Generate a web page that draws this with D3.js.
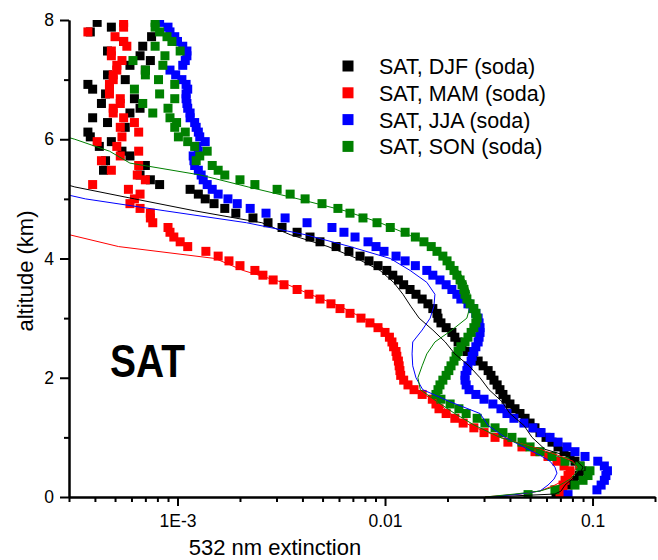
<!DOCTYPE html>
<html>
<head>
<meta charset="utf-8">
<script src="https://cdn.jsdelivr.net/npm/d3@7"></script>
<style>
  body { margin: 0; background: #fff; }
  text { font-family: "Liberation Sans", Arial, sans-serif; fill: #000; }
</style>
</head>
<body>
<div id="chart"></div>
<script>
// Altitude levels of the soda profiles (km)
const altitude = [
  0.04,0.12,0.2,0.28,0.36,0.44,0.52,0.6,0.68,0.76,
  0.84,0.92,1,1.08,1.16,1.24,1.32,1.4,1.48,1.56,
  1.64,1.72,1.8,1.88,1.96,2.04,2.12,2.2,2.28,2.36,
  2.44,2.52,2.6,2.68,2.76,2.84,2.92,3,3.08,3.16,
  3.24,3.32,3.4,3.48,3.56,3.64,3.72,3.8,3.88,3.96,
  4.04,4.12,4.2,4.28,4.36,4.44,4.52,4.6,4.68,4.76,
  4.84,4.92,5,5.08,5.16,5.24,5.32,5.4,5.48,5.56,
  5.64,5.72,5.8,5.88,5.96,6.04,6.12,6.2,6.28,6.36,
  6.44,6.52,6.6,6.68,6.76,6.84,6.92,7,7.08,7.16,
  7.24,7.32,7.4,7.48,7.56,7.64,7.72,7.8,7.88,7.96
];

// 532 nm extinction, seasonal soda profiles
const djf = [
  0.0667,0.0713,0.0762,0.0814,0.0861,0.0890,0.0870,0.0823,0.0779,0.0729,
  0.0682,0.0638,0.0597,0.0558,0.0528,0.0500,0.0473,0.0447,0.0423,0.0400,
  0.0383,0.0370,0.0358,0.0347,0.0335,0.0324,0.0314,0.0297,0.0281,0.0265,
  0.0248,0.0235,0.0225,0.0217,0.0210,0.0197,0.0186,0.0180,0.0178,0.0170,
  0.0161,0.0151,0.0141,0.0132,0.0123,0.0116,0.0109,0.0102,0.00925,0.00837,
  0.00758,0.00670,0.00581,0.00486,0.00435,0.00377,0.00319,0.00273,0.00231,0.00191,
  0.00169,0.00150,0.00136,0.00126,0.00115,0.00082,0.00074,0.00066,0.00044,0.00070,
  0.00045,0.00059,0.00054,0.00042,0.00048,0.00038,0.00037,0.00056,0.00046,0.00039,
  0.00059,0.00066,0.00043,0.00062,0.00045,0.00039,0.00037,0.00056,0.00046,0.00070,
  0.00059,0.00074,0.00066,0.00046,0.00068,0.00055,0.00075,0.00038,0.00048,0.00041
];
const mam = [
  0.0697,0.0713,0.0721,0.0737,0.0762,0.0779,0.0729,0.0674,0.0610,0.0528,
  0.0457,0.0391,0.0339,0.0300,0.0268,0.0238,0.0217,0.0197,0.0182,0.0176,
  0.0169,0.0151,0.0138,0.0129,0.0123,0.0119,0.0118,0.0117,0.0116,0.0114,
  0.0113,0.0110,0.0108,0.0105,0.0100,0.00925,0.00846,0.00766,0.00678,0.00607,
  0.00549,0.00486,0.00430,0.00377,0.00326,0.00289,0.00258,0.00236,0.00200,0.00177,
  0.00157,0.00137,0.00112,0.00103,0.00096,0.00092,0.00090,0.00076,0.00074,0.00074,
  0.00066,0.00059,0.00062,0.00066,0.00058,0.00039,0.00070,0.00064,0.00048,0.00065,
  0.00043,0.00053,0.00065,0.00051,0.00041,0.00054,0.00065,0.00053,0.00062,0.00055,
  0.00049,0.00049,0.00053,0.00053,0.00047,0.00047,0.00047,0.00049,0.00049,0.00051,
  0.00051,0.00054,0.00048,0.00048,0.00057,0.00055,0.00050,0.00037,0.00055,0.00055
];
const jja = [
  0.0762,0.105,0.110,0.114,0.116,0.118,0.114,0.106,0.0920,0.0823,
  0.0753,0.0682,0.0624,0.0565,0.0516,0.0467,0.0418,0.0387,0.0362,0.0331,
  0.0300,0.0274,0.0254,0.0246,0.0243,0.0243,0.0248,0.0251,0.0260,0.0263,
  0.0268,0.0274,0.0281,0.0284,0.0287,0.0287,0.0284,0.0281,0.0274,0.0265,
  0.0251,0.0232,0.0222,0.0210,0.0197,0.0184,0.0170,0.0159,0.0140,0.0125,
  0.0113,0.00989,0.00905,0.00828,0.00717,0.00634,0.00555,0.00421,0.00330,0.00267,
  0.00224,0.00194,0.00175,0.00157,0.00147,0.00139,0.00133,0.00130,0.00126,0.00121,
  0.00120,0.00119,0.00126,0.00124,0.00136,0.00128,0.00126,0.00123,0.00121,0.00115,
  0.00115,0.00112,0.00111,0.00110,0.00110,0.00112,0.00110,0.00105,0.00098,0.00092,
  0.00106,0.00109,0.00111,0.00111,0.00106,0.00100,0.00097,0.00092,0.00090,0.00082
];
const son = [
  0.0489,0.0659,0.0823,0.0900,0.0951,0.0972,0.0870,0.0737,0.0638,0.0558,
  0.0500,0.0457,0.0409,0.0370,0.0339,0.0303,0.0278,0.0246,0.0227,0.0206,
  0.0186,0.0176,0.0180,0.0184,0.0190,0.0197,0.0203,0.0208,0.0215,0.0220,
  0.0225,0.0232,0.0243,0.0251,0.0260,0.0268,0.0274,0.0278,0.0274,0.0268,
  0.0257,0.0248,0.0243,0.0240,0.0235,0.0230,0.0222,0.0215,0.0206,0.0199,
  0.0190,0.0178,0.0167,0.0154,0.0140,0.0125,0.0106,0.00915,0.00783,0.00678,
  0.00593,0.00497,0.00412,0.00349,0.00302,0.00236,0.00200,0.00169,0.00157,0.00147,
  0.00123,0.00128,0.00139,0.00121,0.00112,0.00101,0.00109,0.00097,0.00099,0.00092,
  0.00076,0.00090,0.00068,0.00097,0.00082,0.00062,0.00097,0.00081,0.00070,0.00070,
  0.00085,0.00061,0.00087,0.00103,0.00078,0.00094,0.00089,0.00082,0.00078,0.00078
];

// Thin line profiles (no legend entry)
const lineAltitude = [
  0,0.05,0.1,0.2,0.3,0.4,0.5,0.6,0.7,0.8,
  1,1.2,1.4,1.6,1.8,2,2.2,2.4,2.6,2.8,
  3,3.2,3.4,3.6,3.8,4,4.2,4.4,4.6,4.8,
  5,5.2,5.4,5.6,5.8,6,6.2
];
const djfLine = [
  0.0321,0.0659,0.0705,0.0737,0.0796,0.0870,0.0900,0.0842,0.0737,0.0590,
  0.0511,0.0467,0.0400,0.0366,0.0317,0.0287,0.0254,0.0217,0.0195,0.0170,
  0.0146,0.0133,0.0122,0.0110,0.00946,0.00733,0.00531,0.00349,0.00255,0.00121,
  0.00062,0.00032,0.00020,0.00018,0.00016,0.00016,0.00016
];
const mamLine = [
  0.0303,0.0447,0.0558,0.0659,0.0745,0.0796,0.0842,0.0805,0.0682,0.0558,
  0.0358,0.0257,0.0206,0.0178,0.0140,0.0122,0.0118,0.0114,0.0108,0.0102,
  0.00783,0.00607,0.00435,0.00320,0.00207,0.00152,0.00052,0.00030,0.00018,0.00016,
  0.00016,0.00016,0.00016,0.00016,0.00016,0.00016,0.00016
];
const jjaLine = [
  0.0321,0.0447,0.0558,0.0610,0.0652,0.0674,0.0659,0.0624,0.0558,0.0489,
  0.0379,0.0314,0.0287,0.0205,0.0152,0.0141,0.0136,0.0135,0.0136,0.0151,
  0.0165,0.0172,0.0174,0.0159,0.0132,0.0106,0.00678,0.00412,0.00215,0.00087,
  0.00036,0.00020,0.00016,0.00016,0.00016,0.00016,0.00016
];
const sonLine = [
  0.0303,0.0423,0.0558,0.0697,0.0779,0.0832,0.0870,0.0779,0.0659,0.0544,
  0.0358,0.0271,0.0217,0.0178,0.0148,0.0144,0.0151,0.0159,0.0174,0.0210,
  0.0248,0.0257,0.0257,0.0246,0.0225,0.0199,0.0165,0.0130,0.00946,0.00641,
  0.00381,0.00219,0.00129,0.00059,0.00047,0.00032,0.00020
];

const seriesNames = ["SAT, DJF (soda)", "SAT, MAM (soda)", "SAT, JJA (soda)", "SAT, SON (soda)"];
const seriesColors = ["#000000", "#ff0000", "#0000ff", "#008000"];

const xMajorTicks = [1e-3, 1e-2, 1e-1];
const xTickLabels = ["1E-3", "0.01", "0.1"];
const yMajorTicks = [0, 2, 4, 6, 8];
const yMinorTicks = [1, 3, 5, 7];

// Dimensions
const margin = {top: 20, right: 3, bottom: 63, left: 69};
const width = 658 - margin.left - margin.right;
const height = 560 - margin.top - margin.bottom;

const svg = d3.select("#chart")
  .append("svg")
  .attr("width", 658)
  .attr("height", 560);

const g = svg.append("g")
  .attr("transform", `translate(${margin.left},${margin.top})`);

// Scales
const x = d3.scaleLog()
  .domain([3e-4, 0.2])
  .range([0, width]);

const y = d3.scaleLinear()
  .domain([0, 8])
  .range([height, 0]);

g.append("clipPath")
  .attr("id", "plot-clip")
  .append("rect")
  .attr("width", width)
  .attr("height", height);

const plot = g.append("g").attr("clip-path", "url(#plot-clip)");

// Square markers
const markerSize = 9;
[djf, mam, jja, son].forEach((vals, i) => {
  plot.append("g")
    .selectAll("rect")
    .data(vals.map((v, j) => ({value: v, alt: altitude[j]})))
    .enter().append("rect")
    .attr("x", d => x(d.value) - markerSize / 2)
    .attr("y", d => y(d.alt) - markerSize / 2)
    .attr("width", markerSize)
    .attr("height", markerSize)
    .attr("fill", seriesColors[i]);
});

// Thin lines
const line = d3.line()
  .x(d => x(d.value))
  .y(d => y(d.alt));

[djfLine, mamLine, jjaLine, sonLine].forEach((vals, i) => {
  plot.append("path")
    .datum(vals.map((v, j) => ({value: v, alt: lineAltitude[j]})))
    .attr("fill", "none")
    .attr("stroke", seriesColors[i])
    .attr("stroke-width", 1)
    .attr("d", line);
});

// Minor log ticks
const xMinorTicks = [];
for (let e = -4; e <= -1; e++) {
  for (let k = 2; k <= 9; k++) {
    const v = k * Math.pow(10, e);
    if (v >= 3e-4 * 0.999 && v <= 0.2 * 1.001) xMinorTicks.push(v);
  }
}

// X axis
const xAxisMinor = g.append("g")
  .attr("transform", `translate(0,${height})`)
  .call(d3.axisBottom(x).tickValues(xMinorTicks).tickSize(5).tickSizeOuter(0).tickFormat(""));

const xAxis = g.append("g")
  .attr("transform", `translate(0,${height})`)
  .call(d3.axisBottom(x).tickValues(xMajorTicks).tickSize(9).tickSizeOuter(0)
    .tickFormat((d, i) => xTickLabels[i]));
xAxis.selectAll("text").attr("y", 30).attr("dy", null);

// Y axis
const yAxisMinor = g.append("g")
  .call(d3.axisLeft(y).tickValues(yMinorTicks).tickSize(5).tickSizeOuter(0).tickFormat(""));

const yAxis = g.append("g")
  .call(d3.axisLeft(y).tickValues(yMajorTicks).tickSize(9).tickSizeOuter(0));
yAxis.selectAll("text").attr("x", -15);

[xAxisMinor, xAxis, yAxisMinor, yAxis].forEach(a => {
  a.selectAll("path, line").attr("stroke", "#000").attr("stroke-width", 2);
  a.selectAll("text")
    .attr("font-size", 17.5)
    .attr("font-family", "Liberation Sans, Arial, sans-serif")
    .attr("fill", "#000");
});

// Axis titles
svg.append("text")
  .attr("x", 275)
  .attr("y", 555)
  .attr("text-anchor", "middle")
  .attr("font-size", 22)
  .text("532 nm extinction");

svg.append("text")
  .attr("transform", "translate(33,271) rotate(-90)")
  .attr("text-anchor", "middle")
  .attr("font-size", 22)
  .text("altitude (km)");

// Site label
svg.append("text")
  .attr("x", 110)
  .attr("y", 377)
  .attr("font-size", 46)
  .attr("font-weight", "bold")
  .attr("textLength", 75)
  .attr("lengthAdjust", "spacingAndGlyphs")
  .text("SAT");

// Legend
const legend = svg.append("g");
seriesNames.forEach((name, i) => {
  const cy = 66 + i * 26.8;
  legend.append("rect")
    .attr("x", 342.5)
    .attr("y", cy - 5.5)
    .attr("width", 11)
    .attr("height", 11)
    .attr("fill", seriesColors[i]);
  legend.append("text")
    .attr("x", 379)
    .attr("y", cy + 8)
    .attr("font-size", 21.5)
    .text(name);
});
</script>
</body>
</html>
